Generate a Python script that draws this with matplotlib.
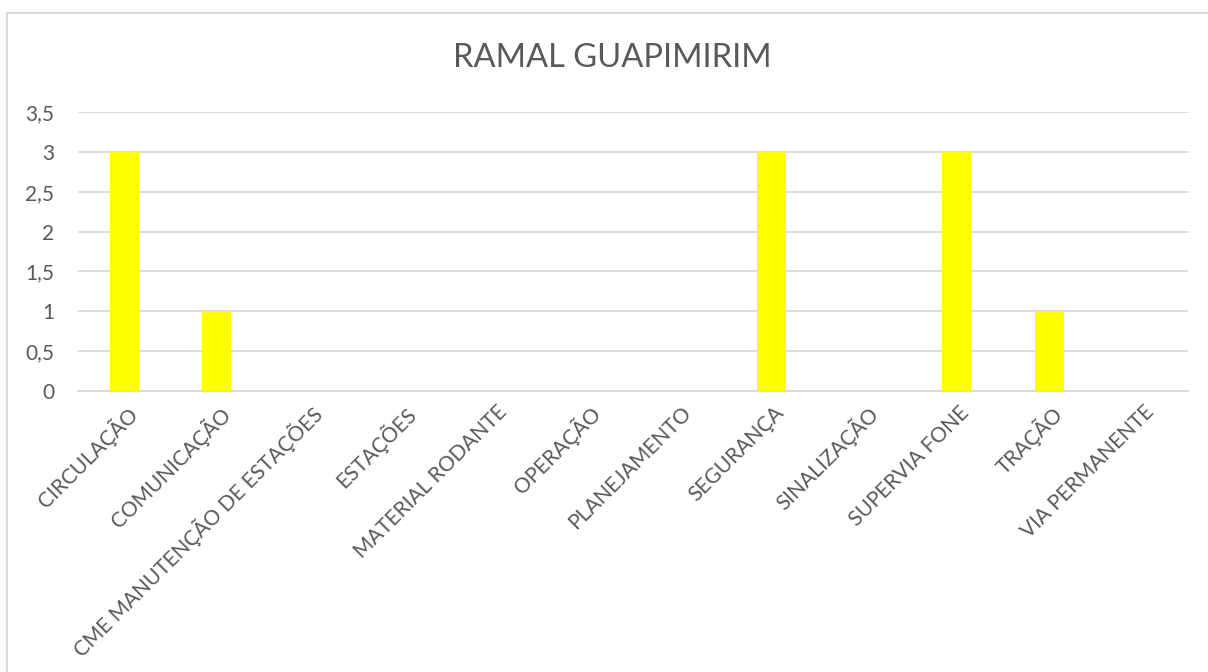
import matplotlib
matplotlib.use("Agg")
import matplotlib.pyplot as plt
from matplotlib.lines import Line2D
from matplotlib.ticker import FuncFormatter
from matplotlib.transforms import ScaledTranslation

categories = ["CIRCULAÇÃO", "COMUNICAÇÃO", "CME MANUTENÇÃO DE ESTAÇÕES", "ESTAÇÕES",
              "MATERIAL RODANTE", "OPERAÇÃO", "PLANEJAMENTO", "SEGURANÇA",
              "SINALIZAÇÃO", "SUPERVIA FONE", "TRAÇÃO", "VIA PERMANENTE"]
values = [3, 1, 0, 0, 0, 0, 0, 3, 0, 3, 1, 0]
yticks = [0, 0.5, 1, 1.5, 2, 2.5, 3, 3.5]
title = "RAMAL GUAPIMIRIM"

plt.rcParams['font.family'] = ['Lato', 'DejaVu Sans']
txt = '#595959'

fig = plt.figure(figsize=(12.08, 6.72), dpi=100)
W, H = 1208, 672
left, right, top, bottom = 78, 1188, 112, 391
ax = fig.add_axes([left / W, 1 - bottom / H, (right - left) / W, (bottom - top) / H])

x = list(range(len(categories)))
ax.bar(x, values, width=0.31, color='#FFFF00', zorder=3)
ax.set_xlim(-0.5, len(categories) - 0.5)
ax.set_ylim(0, 3.5)
ax.set_yticks(yticks)
ax.yaxis.set_major_formatter(FuncFormatter(lambda v, p: ('%g' % v).replace('.', ',')))
ax.grid(axis='y', color='#D9D9D9', linewidth=1.3, zorder=0)
for s in ['top', 'right', 'left']:
    ax.spines[s].set_visible(False)
ax.spines['bottom'].set_color('#D9D9D9')
ax.spines['bottom'].set_linewidth(1.3)
ax.tick_params(axis='both', length=0, colors=txt)
ax.tick_params(axis='y', pad=17, labelsize=15)
ax.tick_params(axis='x', pad=8, labelsize=15)
ax.set_xticks(x)
ax.set_xticklabels(categories, rotation=45, ha='right', rotation_mode='anchor')
off = ScaledTranslation(2 / 100, 0, fig.dpi_scale_trans)
for lab in ax.get_xticklabels():
    lab.set_transform(lab.get_transform() + off)

fig.text(612 / W, 1 - 58 / H, title, ha='center', va='center',
         fontsize=23.5, color=txt)

fig.add_artist(Line2D([7.5 / W, 1.0], [1 - 13 / H, 1 - 13 / H], transform=fig.transFigure,
                      color='#D9D9D9', linewidth=1.5))
fig.add_artist(Line2D([7.5 / W, 7.5 / W], [0, 1 - 13 / H], transform=fig.transFigure,
                      color='#D9D9D9', linewidth=1.5))

fig.savefig('out.png', dpi=100)
